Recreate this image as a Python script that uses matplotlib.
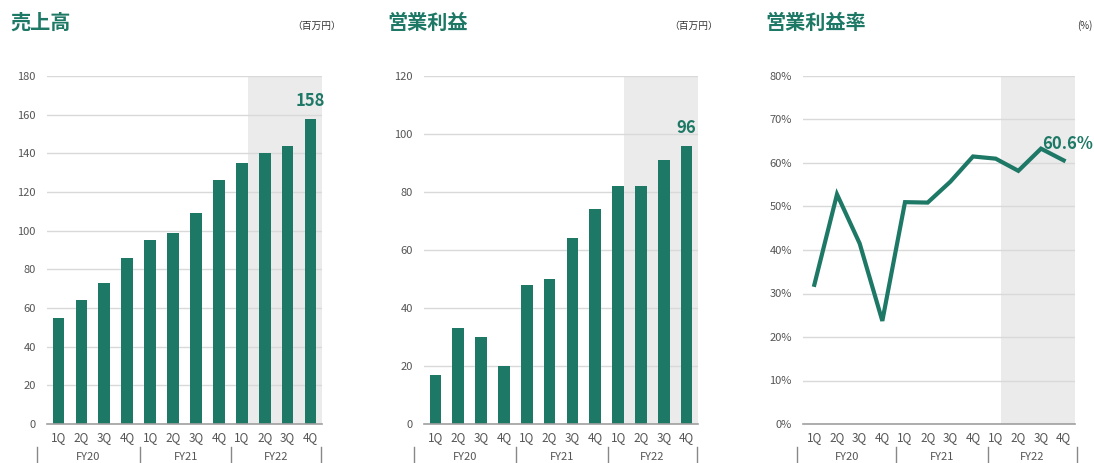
import numpy as np
import matplotlib
matplotlib.use('Agg')
import matplotlib.pyplot as plt
from matplotlib.ticker import FuncFormatter

plt.rcParams['font.family'] = ['Noto Sans CJK JP', 'DejaVu Sans']

# quarters and fiscal years
QUARTERS = ['1Q', '2Q', '3Q', '4Q'] * 3
FISCAL_YEARS = ['FY20', 'FY21', 'FY22']

# 売上高 (百万円)
sales = [55, 64, 73, 86, 95, 99, 109, 126, 135, 140, 144, 158]
# 営業利益 (百万円)
op_profit = [17, 33, 30, 20, 48, 50, 64, 74, 82, 82, 91, 96]
# 営業利益率 (%)
op_margin = [32.0, 52.8, 41.5, 23.7, 51.0, 50.9, 55.7, 61.5, 61.0, 58.2, 63.3, 60.6]

TEAL = '#1d7866'
GRID = '#d9d9d9'
SHADE = '#ebebeb'
TICK = '#555555'

W, H = 1094, 463
fig = plt.figure(figsize=(W / 100, H / 100), dpi=100)


def px_axes(left, right, top, bottom):
    return fig.add_axes([left / W, 1 - bottom / H, (right - left) / W, (bottom - top) / H])


def style(ax, ymax, step, fmt, seps):
    x = np.arange(12)
    ax.set_xlim(-0.5, 11.5)
    ax.set_ylim(0, ymax)
    ax.set_yticks(np.arange(0, ymax + step / 2, step))
    ax.yaxis.set_major_formatter(FuncFormatter(fmt))
    ax.set_xticks(x)
    ax.set_xticklabels(QUARTERS)
    ax.tick_params(axis='both', length=0, labelsize=8, labelcolor=TICK)
    ax.tick_params(axis='x', pad=5, labelsize=8.5)
    ax.tick_params(axis='y', pad=8)
    ax.axvspan(8.25, 11.5, color=SHADE, zorder=0, lw=0)
    ax.grid(True, axis='y', color=GRID, lw=1, zorder=1)
    ax.set_axisbelow(True)
    for s in ['top', 'right', 'left']:
        ax.spines[s].set_visible(False)
    ax.spines['bottom'].set_color('#a0a0a0')
    ax.spines['bottom'].set_linewidth(1.2)
    ax.spines['bottom'].set_zorder(5)
    tr = ax.get_xaxis_transform()
    for sx in seps:
        ax.plot([sx, sx], [-0.066, -0.115], color='#888888', lw=1, transform=tr, clip_on=False)
    for i, fy in enumerate(FISCAL_YEARS):
        ax.text((seps[i] + seps[i + 1]) / 2, -0.095, fy, transform=tr, ha='center', va='center',
                fontsize=8, color=TICK)


def header(x_title, x_unit, title, unit):
    fig.text(x_title / W, 1 - 22 / H, title, fontsize=14.5, fontweight='bold', color=TEAL,
             ha='left', va='center')
    fig.text(x_unit / W, 1 - 26 / H, unit, fontsize=7, color='#333333', ha='right', va='center')


# 売上高
ax1 = px_axes(47, 322, 76, 424)
ax1.bar(np.arange(12), sales, width=0.51, color=TEAL, zorder=3)
style(ax1, 180, 20, lambda v, p: f'{v:.0f}', [-0.95, 3.55, 7.55, 11.45])
ax1.annotate(f'{sales[-1]}', (11, sales[-1]), xytext=(0, 6), textcoords='offset points',
             ha='center', va='bottom', fontsize=12, fontweight='bold', color=TEAL)
header(10, 341, '売上高', '（百万円）')

# 営業利益
ax2 = px_axes(424, 698, 76, 424)
ax2.bar(np.arange(12), op_profit, width=0.51, color=TEAL, zorder=3)
style(ax2, 120, 20, lambda v, p: f'{v:.0f}', [-0.95, 3.55, 7.55, 11.45])
ax2.annotate(f'{op_profit[-1]}', (11, op_profit[-1]), xytext=(0, 6), textcoords='offset points',
             ha='center', va='bottom', fontsize=12, fontweight='bold', color=TEAL)
header(387, 718, '営業利益', '（百万円）')

# 営業利益率
ax3 = px_axes(803, 1075, 76, 424)
ax3.plot(np.arange(12), op_margin, color=TEAL, lw=3, zorder=3, solid_joinstyle='miter')
style(ax3, 80, 10, lambda v, p: f'{v:.0f}%', [-0.75, 3.6, 7.65, 11.6])
ax3.annotate(f'{op_margin[-1]}%', (11, op_margin[-1]), xytext=(3, 5), textcoords='offset points',
             ha='center', va='bottom', fontsize=12, fontweight='bold', color=TEAL)
header(765, 1093, '営業利益率', '(%)')

fig.savefig('out.png', dpi=100)
plt.close(fig)
